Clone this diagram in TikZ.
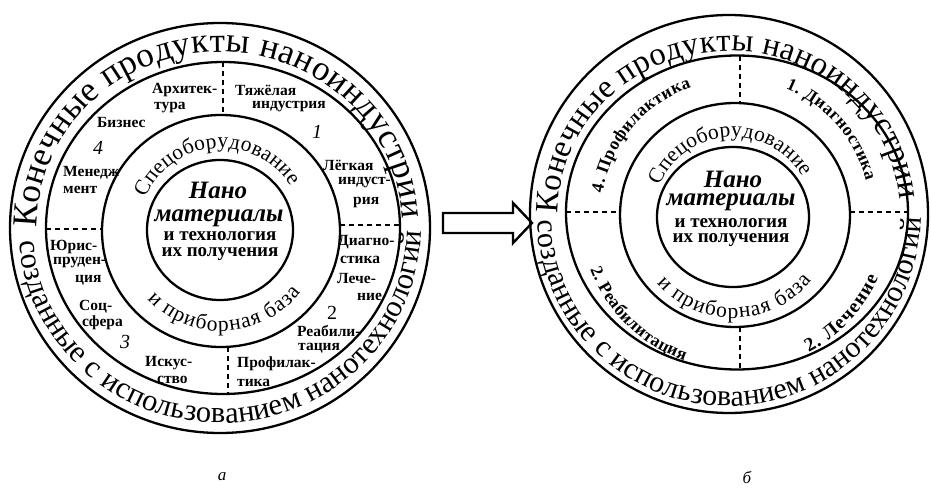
\documentclass[tikz,border=0pt]{standalone}
\usepackage{fontspec}
\setmainfont{Liberation Serif}
\usetikzlibrary{decorations.text}
\newcommand\TopRingFont{\fontsize{35}{35}\selectfont}
\newcommand\TopRingFontR{\fontsize{32.5}{32.5}\selectfont}
\newcommand\BotRingFont{\fontsize{30.5}{30.5}\selectfont}
\newcommand\BotRingFontR{\fontsize{30}{30}\selectfont}
\newcommand\MidRingFont{\fontsize{21.5}{21.5}\selectfont}
\newcommand\SecFont{\fontsize{17.5}{17.5}\selectfont\bfseries}
\newcommand\SecFontBig{\fontsize{19.5}{19.5}\selectfont\bfseries}
\begin{document}
\begin{tikzpicture}[x=1pt,y=1pt]
\useasboundingbox (0,0) rectangle (931,-503);
\tikzset{
  ring/.style={line width=2.3pt},
  sep/.style={line width=1.4pt, dash pattern=on 5pt off 4pt},
  lab/.style={font=\fontsize{15.5}{15.5}\selectfont\bfseries, inner sep=0pt, anchor=west},
  num/.style={font=\fontsize{20}{20}\selectfont\itshape, inner sep=0pt},
  core/.style={inner sep=0pt, anchor=base},
  arctext/.style={decorate, decoration={text along path, text align={fit to path}, text={#1}}},
}
% ---------------- left diagram (a) ----------------
\draw[ring] (220,-228) ellipse [x radius=210, y radius=205];
\draw[ring] (223,-228) ellipse [x radius=177, y radius=166];
\draw[ring] (221,-231) ellipse [x radius=119, y radius=116];
\draw[ring] (220,-230) ellipse [x radius=73, y radius=70];
\draw[sep] (223,-62) -- (223,-115);
\draw[sep] (340,-225) -- (400,-225);
\draw[sep] (228,-347) -- (228,-394);
\draw[sep] (46,-229) -- (102,-229);

\path[arctext={|\TopRingFont|Конечные продукты наноиндустрии}]
  (220,-228) ++(180:183 and 176) arc[start angle=180, end angle=3, x radius=183, y radius=176];
\path[arctext={|\BotRingFont|созданные с использованием нанотехнологий}]
  (220,-228) ++(184:201 and 195) arc[start angle=184, end angle=359, x radius=201, y radius=195];
\path[arctext={|\MidRingFont|Спецоборудование}]
  (221,-230) ++(157:82) arc[start angle=157, end angle=32, radius=82];
\path[arctext={|\MidRingFont|и приборная база}]
  (221,-230) ++(223:101) arc[start angle=223, end angle=322, radius=101];

\node[core, font=\fontsize{25}{25}\selectfont\bfseries\itshape] (nanoL) at (218,-198) {Нано};
\node[core, font=\fontsize{25}{25}\selectfont\bfseries\itshape] (matL) at (219,-221) {материалы};
\node[core, font=\fontsize{19}{19}\selectfont\bfseries] (techL) at (220,-240) {и технология};
\node[core, font=\fontsize{19}{19}\selectfont\bfseries] (getL) at (220,-256) {их получения};

\node[lab] (arch1) at (152,-90) {Архитек-};
\node[lab] (arch2) at (154,-108) {тура};
\node[lab] (heavy1) at (235,-90) {Тяжёлая};
\node[lab] (heavy2) at (252,-107) {индустрия};
\node[num] (n1) at (317,-132) {1};
\node[lab] (light1) at (323,-165) {Лёгкая};
\node[lab] (light2) at (338,-183) {индуст-};
\node[lab] (light3) at (353,-202) {рия};
\node[lab] (diag1) at (338,-242) {Диагно-};
\node[lab] (diag2) at (340,-260) {стика};
\node[lab] (cure1) at (337,-278) {Лече-};
\node[lab] (cure2) at (357,-297) {ние};
\node[num, font=\fontsize{20}{20}\selectfont] (n2) at (332,-313) {2};
\node[lab] (reh1) at (297,-331) {Реабили-};
\node[lab] (reh2) at (298,-348) {тация};
\node[lab] (prof1) at (237,-364) {Профилак-};
\node[lab] (prof2) at (237,-383) {тика};
\node[lab] (art1) at (145,-363) {Искус-};
\node[lab] (art2) at (157,-380) {ство};
\node[num] (n3) at (125,-342) {3};
\node[lab] (soc1) at (79,-307) {Соц-};
\node[lab] (soc2) at (82,-323) {сфера};
\node[lab] (law1) at (50,-247) {Юрис-};
\node[lab] (law2) at (53,-263) {пруден-};
\node[lab] (law3) at (75,-280) {ция};
\node[lab] (man1) at (63,-173) {Менедж};
\node[lab] (man2) at (63,-190) {мент};
\node[num] (n4) at (98,-148) {4};
\node[lab] (bus) at (97,-123) {Бизнес};

% ---------------- arrow ----------------
\draw[line width=2.4pt, line join=miter, fill=white]
  (443,-213) -- (513,-213) -- (513,-203) -- (532,-223) -- (513,-243) -- (513,-233) -- (443,-233) -- cycle;

% ---------------- right diagram (b) ----------------
\draw[ring] (729,-214) circle [radius=199];
\draw[ring] (737,-212.5) ellipse [x radius=171, y radius=157];
\draw[ring] (735,-215) ellipse [x radius=115, y radius=112];
\draw[ring] (733,-217) ellipse [x radius=76, y radius=70];
\draw[sep] (740,-56) -- (740,-103);
\draw[sep] (740,-327) -- (740,-369);
\draw[sep] (566,-212) -- (620,-212);
\draw[sep] (850,-212) -- (908,-212);

\path[arctext={|\TopRingFontR|Конечные продукты наноиндустрии}]
  (729,-214) ++(180:171 and 163) arc[start angle=180, end angle=5, x radius=171, y radius=163];
\path[arctext={|\BotRingFontR|созданные с использованием нанотехнологий}]
  (729,-214) ++(182:192) arc[start angle=182, end angle=359, radius=192];
\path[arctext={|\MidRingFont|Спецоборудование}]
  (733,-217) ++(157:80) arc[start angle=157, end angle=30, radius=80];
\path[arctext={|\MidRingFont|и приборная база}]
  (733,-217) ++(221:101) arc[start angle=221, end angle=321, radius=101];
\path[arctext={|\SecFont|1. Диагностика}]
  (735,-214) ++(68:135) arc[start angle=68, end angle=14, radius=135];
\path[arctext={|\SecFont|4. Профилактика}]
  (735,-214) ++(171:134) arc[start angle=171, end angle=109, radius=134];
\path[arctext={|\SecFont|2. Реабилитация}]
  (735,-214) ++(201:155) arc[start angle=201, end angle=251, radius=155];
\path[arctext={|\SecFontBig|2. Лечение}]
  (735,-214) ++(298:157) arc[start angle=298, end angle=336, radius=157];

\node[core, font=\fontsize{25}{25}\selectfont\bfseries\itshape] (nanoR) at (733,-187) {Нано};
\node[core, font=\fontsize{25}{25}\selectfont\bfseries\itshape] (matR) at (731,-205) {материалы};
\node[core, font=\fontsize{19}{19}\selectfont\bfseries] (techR) at (731,-227) {и технология};
\node[core, font=\fontsize{19}{19}\selectfont\bfseries] (getR) at (731,-242) {их получения};

% captions
\node[font=\fontsize{17}{17}\selectfont\itshape, inner sep=0pt] (capA) at (222,-477) {а};
\node[font=\fontsize{17}{17}\selectfont\itshape, inner sep=0pt] (capB) at (747,-477) {б};
\end{tikzpicture}
\end{document}
